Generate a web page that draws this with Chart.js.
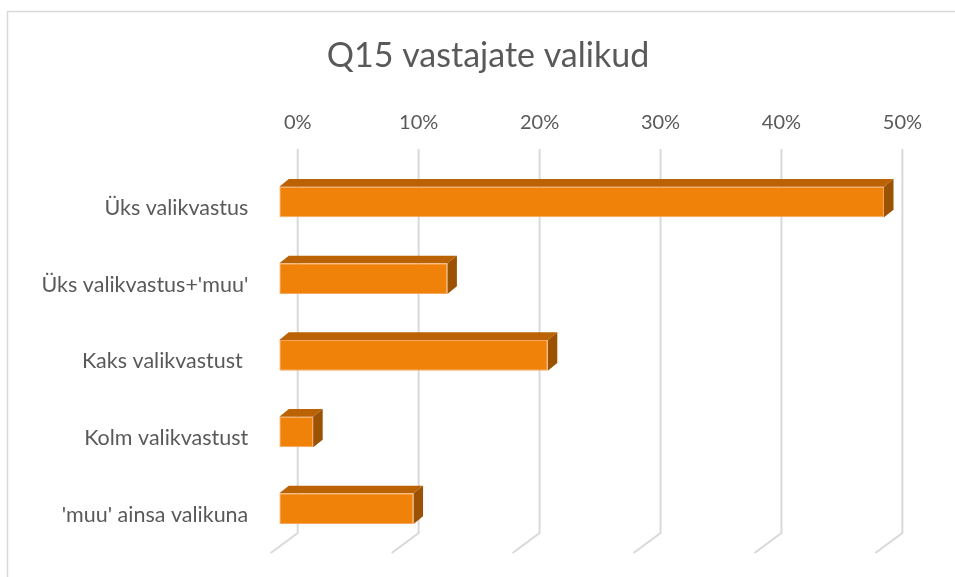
<!DOCTYPE html>
<html>
<head>
<meta charset="utf-8">
<title>Q15 vastajate valikud</title>
<script src="https://cdn.jsdelivr.net/npm/chart.js@4/dist/chart.umd.min.js"></script>
<style>
  html, body { margin: 0; padding: 0; background: #fff; }
  #wrap { width: 955px; height: 577px; }
</style>
</head>
<body>
<div id="wrap"><canvas id="myChart" width="955" height="577"></canvas></div>
<script>
  "use strict";

  // data (percent)
  var categories = [
    "Üks valikvastus",
    "Üks valikvastus+'muu'",
    "Kaks valikvastust ",
    "Kolm valikvastust",
    "'muu' ainsa valikuna",
  ];
  var shares = [50.0, 13.9, 22.2, 2.8, 11.1];
  var tickValues = [0, 10, 20, 30, 40, 50];
  var chartTitle = "Q15 vastajate valikud";

  var textColor = "#595959";
  var gridColor = "#d9d9d9";
  var wallShift = 18.4; // back wall sits right of the bar fronts
  var barDepth = { dx: 9.5, dy: 7.7 };

  /*white page, outer frame and the title (sits off-centre like the original)*/
  var framePlugin = {
    id: "frame",
    beforeDraw: function (chart) {
      var ctx = chart.ctx;
      ctx.save();
      ctx.fillStyle = "#fff";
      ctx.fillRect(0, 0, chart.width, chart.height);
      ctx.strokeStyle = gridColor;
      ctx.lineWidth = 1.5;
      ctx.strokeRect(7.5, 11.5, chart.width + 20, chart.height + 20);

      ctx.fillStyle = textColor;
      ctx.font = "34px Lato";
      ctx.textAlign = "center";
      ctx.textBaseline = "middle";
      ctx.fillText(chartTitle, 488, 56);
      ctx.restore();
    },
  };

  /*3d look: wall gridlines and the top/side faces of each bar*/
  var depthPlugin = {
    id: "depth",
    beforeDatasetsDraw: function (chart) {
      var ctx = chart.ctx;
      var area = chart.chartArea;
      var xScale = chart.scales.x;

      ctx.save();
      ctx.strokeStyle = gridColor;
      ctx.lineWidth = 2;
      tickValues.forEach(function (v) {
        var x = xScale.getPixelForValue(v) + wallShift;
        ctx.beginPath();
        ctx.moveTo(x, area.top - 14.7);
        ctx.lineTo(x, area.bottom - 14);
        ctx.lineTo(x - 27, area.bottom + 6);
        ctx.stroke();
      });

      var meta = chart.getDatasetMeta(0);
      meta.data.forEach(function (bar) {
        var top = bar.y - bar.height / 2;
        var bottom = bar.y + bar.height / 2;
        var dx = barDepth.dx;
        var dy = barDepth.dy;

        ctx.fillStyle = "#bb6205";
        ctx.beginPath();
        ctx.moveTo(bar.base, top);
        ctx.lineTo(bar.x, top);
        ctx.lineTo(bar.x + dx, top - dy);
        ctx.lineTo(bar.base + dx, top - dy);
        ctx.closePath();
        ctx.fill();

        ctx.fillStyle = "#9c5203";
        ctx.beginPath();
        ctx.moveTo(bar.x, top);
        ctx.lineTo(bar.x + dx, top - dy);
        ctx.lineTo(bar.x + dx, bottom - dy);
        ctx.lineTo(bar.x, bottom);
        ctx.closePath();
        ctx.fill();
      });
      ctx.restore();
    },
  };

  var canvas = document.getElementById("myChart");
  var ctx = canvas.getContext("2d");

  new Chart(ctx, {
    type: "bar",
    data: {
      labels: categories,
      datasets: [
        {
          label: "Q15",
          data: shares,
          backgroundColor: "#f08209",
          borderColor: "#f7a860",
          borderWidth: 1,
          borderSkipped: false,
          barPercentage: 0.4,
          categoryPercentage: 1,
        },
      ],
    },
    options: {
      indexAxis: "y",
      responsive: false,
      animation: false,
      layout: {
        padding: { top: 76.4, bottom: 30, left: 0, right: 71 },
      },
      plugins: {
        legend: { display: false },
        tooltip: { enabled: false },
        title: { display: false },
      },
      scales: {
        x: {
          position: "top",
          min: 0,
          max: 50,
          afterFit: function (scale) {
            scale.height = 87.3;
          },
          afterBuildTicks: function (scale) {
            scale.ticks = tickValues.map(function (v) {
              return { value: v };
            });
          },
          grid: { display: false, drawTicks: false },
          border: { display: false },
          ticks: {
            padding: 28.7,
            labelOffset: wallShift,
            maxRotation: 0,
            color: textColor,
            font: { family: "Lato", size: 20 },
            callback: function (v) {
              return v + "%";
            },
          },
        },
        y: {
          afterFit: function (scale) {
            scale.width = 279.3;
            // labels sit well inside the band, no extra room needed
            scale.paddingTop = 0;
            scale.paddingBottom = 0;
          },
          grid: { display: false, drawTicks: false },
          border: { display: false },
          ticks: {
            padding: 31,
            labelOffset: 6,
            color: textColor,
            font: { family: "Lato", size: 21.5 },
          },
        },
      },
    },
    plugins: [framePlugin, depthPlugin],
  });
</script>
</body>
</html>
